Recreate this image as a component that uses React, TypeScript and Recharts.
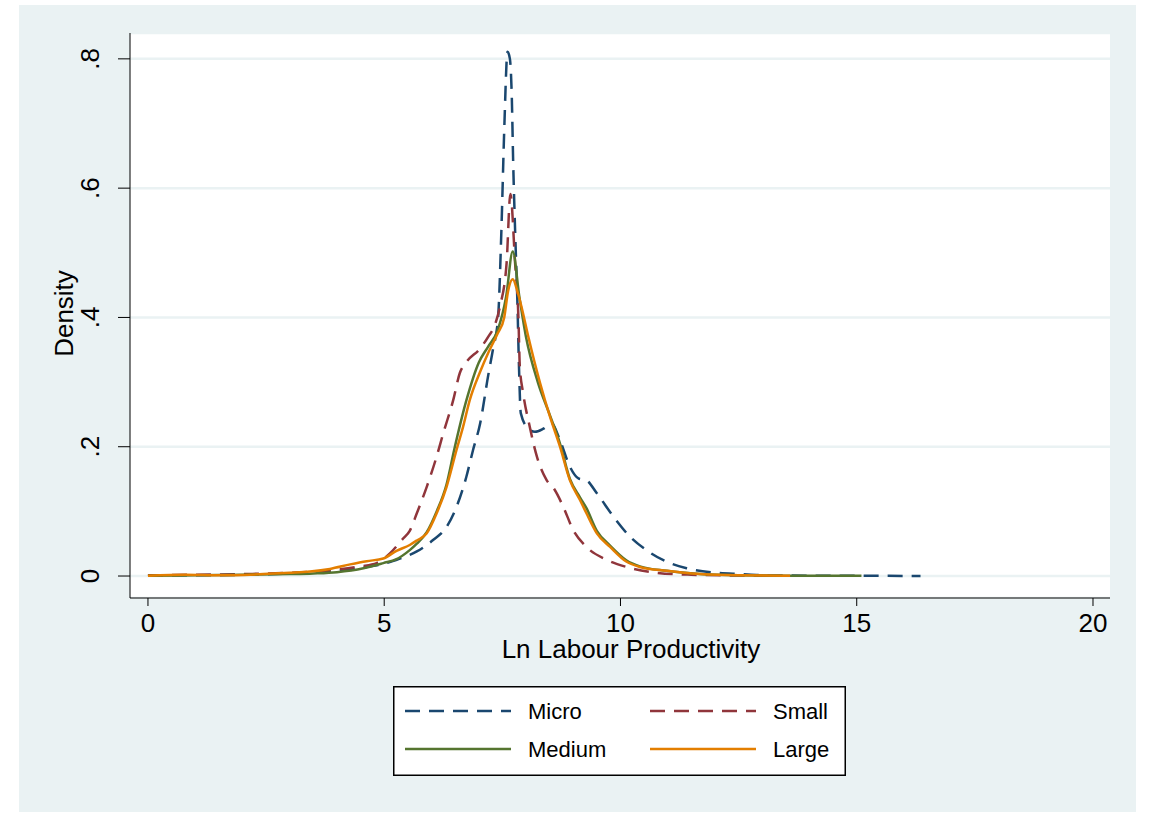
import React from 'react';
import { LineChart, Line, XAxis, YAxis, CartesianGrid } from 'recharts';

// kernel density estimates
const microX = [0, 1, 2, 3, 4, 4.63, 5.0, 5.33, 5.69, 6.04, 6.32, 6.53, 6.74, 6.88, 7.03, 7.2, 7.3, 7.41, 7.48, 7.54, 7.61, 7.66, 7.7, 7.73, 7.77, 7.82, 7.85, 7.89, 8.05, 8.19, 8.37, 8.54, 8.72, 8.93, 9.11, 9.28, 9.5, 9.85, 10.2, 10.55, 10.98, 11.4, 12.04, 12.53, 13.1, 14, 15, 16.35];
const microY = [0.001, 0.001, 0.002, 0.004, 0.008, 0.014, 0.019, 0.027, 0.038, 0.056, 0.076, 0.107, 0.154, 0.195, 0.236, 0.31, 0.35, 0.4, 0.535, 0.69, 0.811, 0.8, 0.741, 0.638, 0.535, 0.42, 0.33, 0.252, 0.228, 0.223, 0.228, 0.236, 0.21, 0.169, 0.151, 0.148, 0.128, 0.092, 0.061, 0.04, 0.022, 0.012, 0.005, 0.003, 0.001, 0.0005, 0.0003, 0.0002];

const smallX = [0, 1, 2, 3, 4, 4.5, 4.84, 5.12, 5.4, 5.54, 5.69, 5.9, 6.11, 6.25, 6.46, 6.6, 6.74, 7.03, 7.2, 7.35, 7.45, 7.59, 7.67, 7.77, 7.84, 7.87, 7.94, 8.08, 8.23, 8.44, 8.61, 8.79, 9.0, 9.28, 9.71, 10.13, 10.77, 11.5, 12.3, 13.2];
const smallY = [0.001, 0.002, 0.003, 0.005, 0.01, 0.015, 0.02, 0.035, 0.058, 0.07, 0.097, 0.138, 0.185, 0.221, 0.272, 0.314, 0.331, 0.352, 0.37, 0.39, 0.417, 0.484, 0.591, 0.484, 0.4, 0.324, 0.283, 0.231, 0.185, 0.148, 0.133, 0.107, 0.071, 0.045, 0.025, 0.014, 0.005, 0.002, 0.001, 0.0005];

const mediumX = [0, 1, 2, 3, 3.5, 4, 4.56, 4.98, 5.26, 5.54, 5.69, 5.9, 6.11, 6.32, 6.48, 6.74, 7.0, 7.2, 7.4, 7.58, 7.72, 7.86, 8.0, 8.25, 8.5, 8.72, 8.93, 9.14, 9.28, 9.5, 9.78, 10.13, 10.41, 10.98, 11.68, 12.5, 13.5, 15.1];
const mediumY = [0.0005, 0.001, 0.002, 0.003, 0.004, 0.006, 0.012, 0.02, 0.026, 0.04, 0.05, 0.068, 0.1, 0.142, 0.195, 0.272, 0.33, 0.355, 0.38, 0.432, 0.502, 0.432, 0.37, 0.3, 0.25, 0.205, 0.15, 0.122, 0.105, 0.07, 0.047, 0.024, 0.015, 0.008, 0.003, 0.001, 0.0005, 0.0003];

const largeX = [0, 0.8, 1.5, 2.44, 3.0, 3.43, 3.85, 4.28, 4.63, 4.98, 5.26, 5.54, 5.69, 5.9, 6.11, 6.32, 6.53, 6.67, 6.81, 7.03, 7.2, 7.4, 7.54, 7.62, 7.72, 7.82, 7.91, 8.05, 8.3, 8.51, 8.72, 8.93, 9.14, 9.28, 9.5, 9.78, 10.13, 10.41, 10.98, 11.68, 12.5, 13.59];
const largeY = [0.0005, 0.002, 0.001, 0.003, 0.005, 0.007, 0.011, 0.018, 0.023, 0.027, 0.039, 0.048, 0.055, 0.066, 0.097, 0.138, 0.195, 0.231, 0.272, 0.316, 0.345, 0.375, 0.4, 0.44, 0.459, 0.44, 0.415, 0.37, 0.298, 0.246, 0.2, 0.148, 0.118, 0.097, 0.066, 0.045, 0.022, 0.014, 0.008, 0.003, 0.001, 0.0005];

const xTicks = [0, 5, 10, 15, 20];
const yTicks = [0, 0.2, 0.4, 0.6, 0.8];
const yTickLabels = ['0', '.2', '.4', '.6', '.8'];

const toPoints = (xs: number[], ys: number[]) => xs.map((x, i) => ({ x, y: ys[i] }));

const series = [
  { name: 'Micro', data: toPoints(microX, microY), color: '#1a476f', dash: '15 9' },
  { name: 'Small', data: toPoints(smallX, smallY), color: '#90353b', dash: '15 9' },
  { name: 'Medium', data: toPoints(mediumX, mediumY), color: '#55752f', dash: undefined },
  { name: 'Large', data: toPoints(largeX, largeY), color: '#e37e00', dash: undefined },
];

const FONT = '"Liberation Sans", Arial, Helvetica, sans-serif';

const XTick = ({ x, y, payload }: any) => (
  <text x={x} y={y + 24} textAnchor="middle" fontSize={26} fontFamily={FONT} fill="#000">
    {payload.value}
  </text>
);

const YTick = ({ x, y, payload }: any) => {
  const idx = yTicks.indexOf(payload.value);
  const bx = x - 17;
  return (
    <text x={bx} y={y} transform={`rotate(-90, ${bx}, ${y})`} textAnchor="middle" fontSize={26} fontFamily={FONT} fill="#000">
      {idx >= 0 ? yTickLabels[idx] : payload.value}
    </text>
  );
};

// legend drawn as its own box below the plot, two columns by two rows
const LegendBox = () => {
  const cells = [
    { s: series[0], lx: 12, tx: 135, cy: 25 },
    { s: series[1], lx: 257, tx: 380, cy: 25 },
    { s: series[2], lx: 12, tx: 135, cy: 63 },
    { s: series[3], lx: 257, tx: 380, cy: 63 },
  ];
  return (
    <svg width={453} height={90} style={{ display: 'block' }}>
      <rect x={0.75} y={0.75} width={451.5} height={88.5} fill="#fff" stroke="#000" strokeWidth={1.5} />
      {cells.map((c) => (
        <g key={c.s.name}>
          <line x1={c.lx} x2={c.lx + 106} y1={c.cy} y2={c.cy} stroke={c.s.color} strokeWidth={2.5} strokeDasharray={c.s.dash} />
          <text x={c.tx} y={c.cy + 8} fontSize={22} fontFamily={FONT} fill="#000">
            {c.s.name}
          </text>
        </g>
      ))}
    </svg>
  );
};

export default function App() {
  return (
    <div style={{ position: 'absolute', left: 0, top: 0, width: 1150, height: 813, background: '#fff' }}>
      <div style={{ position: 'absolute', left: 19, top: 5, width: 1117, height: 807, background: '#eaf2f3' }} />
      <div style={{ position: 'absolute', left: 0, top: 0 }}>
        <LineChart width={1150} height={813} margin={{ top: 33, right: 40, left: 70, bottom: 165 }}>
          <CartesianGrid vertical={false} stroke="#eaf2f3" strokeWidth={2.5} fill="#fff" />
          <XAxis
            type="number"
            dataKey="x"
            domain={[-0.38, 20.36]}
            ticks={xTicks}
            allowDataOverflow
            height={50}
            tickSize={8}
            tickMargin={2}
            stroke="#000"
            tick={<XTick />}
            label={{
              content: ({ viewBox }: any) => (
                <text x={viewBox.x + viewBox.width / 2 + 11} y={viewBox.y + 60} textAnchor="middle" fontSize={26} fontFamily={FONT} fill="#000">
                  Ln Labour Productivity
                </text>
              ),
            }}
          />
          <YAxis
            type="number"
            dataKey="y"
            domain={[-0.034, 0.84]}
            ticks={yTicks}
            allowDataOverflow
            width={60}
            tickSize={12}
            tickMargin={2}
            stroke="#000"
            tick={<YTick />}
            label={{
              content: ({ viewBox }: any) => {
                const cx = 73;
                const cy = viewBox.y + viewBox.height / 2 - 2;
                return (
                  <text x={cx} y={cy} transform={`rotate(-90, ${cx}, ${cy})`} textAnchor="middle" fontSize={26} fontFamily={FONT} fill="#000">
                    Density
                  </text>
                );
              },
            }}
          />
          {series.map((s) => (
            <Line
              key={s.name}
              data={s.data}
              dataKey="y"
              name={s.name}
              type="monotone"
              stroke={s.color}
              strokeWidth={2.5}
              strokeDasharray={s.dash}
              dot={false}
              activeDot={false}
              isAnimationActive={false}
            />
          ))}
        </LineChart>
      </div>
      <div style={{ position: 'absolute', left: 393, top: 686 }}>
        <LegendBox />
      </div>
    </div>
  );
}
